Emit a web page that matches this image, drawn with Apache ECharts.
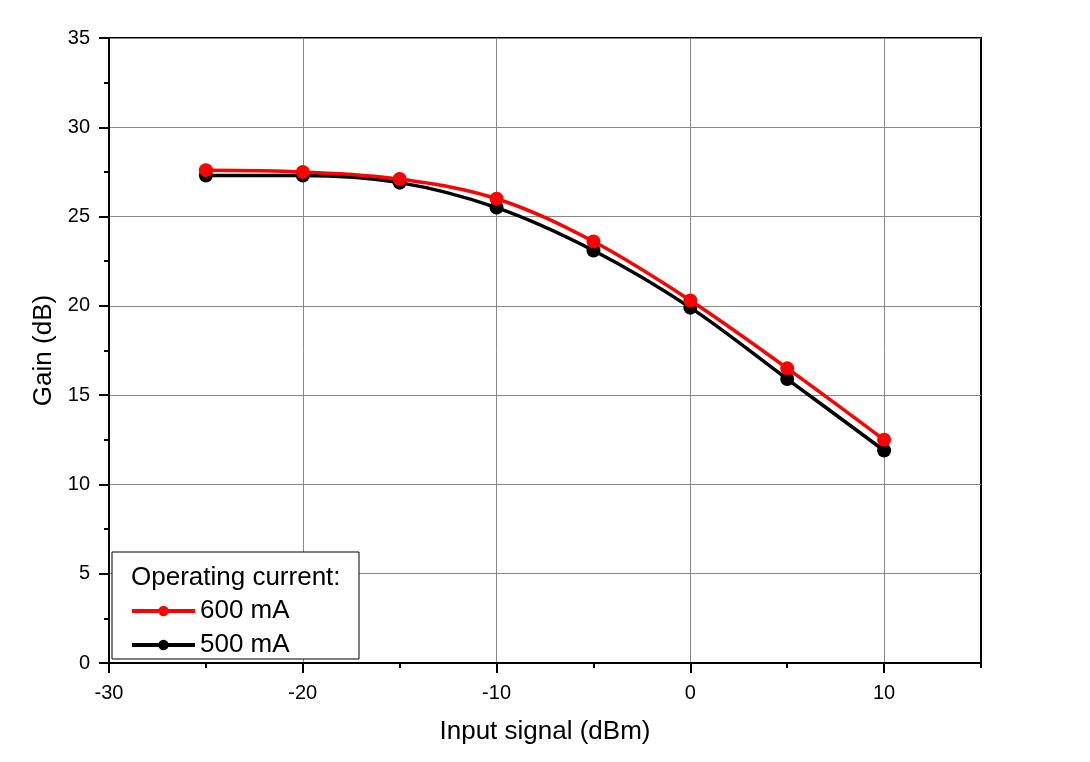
<!DOCTYPE html>
<html>
<head>
<meta charset="utf-8">
<script src="https://cdn.jsdelivr.net/npm/echarts@6/dist/echarts.min.js"></script>
<style>
  html, body { margin: 0; padding: 0; background: #fff; }
  #chart { width: 1090px; height: 762px; }
</style>
</head>
<body>
<div id="chart"></div>
<script>
'use strict';

// input signal (dBm)
const inputSignal = [-25, -20, -15, -10, -5, 0, 5, 10];
// gain (dB)
const gain600 = [27.6, 27.5, 27.1, 26.0, 23.6, 20.3, 16.5, 12.5];
const gain500 = [27.3, 27.3, 26.9, 25.5, 23.1, 19.9, 15.9, 11.9];

const seriesNames = ['600 mA', '500 mA'];
const legendTitle = 'Operating current:';

const font = 'Liberation Sans, Arial, sans-serif';

function pairs(xs, ys) {
  return xs.map((x, i) => [x, ys[i]]);
}

let instance = echarts.init(document.getElementById('chart'));

instance.setOption({
  backgroundColor: '#fff',
  animation: false,
  textStyle: { fontFamily: font, color: '#000' },
  grid: [{
    left: 109, top: 38, width: 872, height: 625,
    show: true, borderColor: '#000', borderWidth: 2
  }, {
    // narrower grid, only for the -30..10 labelled ticks and vertical grid lines
    left: 109, top: 38, width: 872 * 40 / 45, height: 625
  }],
  legend: {
    orient: 'vertical',
    left: 130,
    top: 598,
    padding: 0,
    itemWidth: 63,
    itemHeight: 13,
    itemGap: 8,
    z: 20,
    data: seriesNames,
    lineStyle: { width: 4 },
    textStyle: { fontFamily: font, fontSize: 26, color: '#000' }
  },
  graphic: [{
    type: 'rect',
    shape: { x: 112, y: 552, width: 247, height: 107 },
    style: { fill: '#fff', stroke: '#000', lineWidth: 1 },
    z: 10
  }, {
    type: 'text',
    x: 131, y: 578,
    style: {
      text: legendTitle, fontFamily: font, fontSize: 26, fill: '#000',
      verticalAlign: 'middle'
    },
    z: 11
  }],
  xAxis: [{
    type: 'value',
    gridIndex: 0,
    min: -30, max: 15, interval: 5,
    name: 'Input signal (dBm)',
    nameLocation: 'middle',
    nameGap: 56,
    nameTextStyle: { fontFamily: font, fontSize: 26, color: '#000' },
    axisLine: { show: true, onZero: false, lineStyle: { color: '#000', width: 2 } },
    axisTick: { show: true, length: 5, lineStyle: { color: '#000', width: 2 } },
    axisLabel: { show: false },
    splitLine: { show: false }
  }, {
    type: 'value',
    gridIndex: 1,
    min: -30, max: 10, interval: 10,
    axisLine: { show: false },
    axisTick: { show: true, length: 10, lineStyle: { color: '#000', width: 2 } },
    axisLabel: { fontFamily: font, fontSize: 20, color: '#000', margin: 20 },
    splitLine: { show: true, lineStyle: { color: '#888', width: 1 } }
  }],
  yAxis: [{
    type: 'value',
    gridIndex: 0,
    min: 0, max: 35, interval: 5,
    name: 'Gain (dB)',
    nameLocation: 'middle',
    nameGap: 52,
    nameTextStyle: { fontFamily: font, fontSize: 26, color: '#000' },
    axisLine: { show: true, onZero: false, lineStyle: { color: '#000', width: 2 } },
    axisTick: { show: true, length: 10, lineStyle: { color: '#000', width: 2 } },
    minorTick: { show: true, splitNumber: 2, length: 5, lineStyle: { color: '#000', width: 2 } },
    axisLabel: { fontFamily: font, fontSize: 20, color: '#000', margin: 19 },
    splitLine: { show: true, lineStyle: { color: '#888', width: 1 } }
  }, {
    type: 'value',
    gridIndex: 1,
    min: 0, max: 35,
    show: false
  }],
  series: [{
    name: seriesNames[1],
    type: 'line',
    xAxisIndex: 0, yAxisIndex: 0,
    data: pairs(inputSignal, gain500),
    smooth: 0.35,
    symbol: 'circle',
    symbolSize: 14,
    itemStyle: { color: '#000' },
    lineStyle: { color: '#000', width: 3.5 },
    z: 3
  }, {
    name: seriesNames[0],
    type: 'line',
    xAxisIndex: 0, yAxisIndex: 0,
    data: pairs(inputSignal, gain600),
    smooth: 0.35,
    symbol: 'circle',
    symbolSize: 14,
    itemStyle: { color: '#ff0000' },
    lineStyle: { color: '#ff0000', width: 3.5 },
    z: 4
  }]
});

window.onresize = () => {
  instance.resize();
};
</script>
</body>
</html>
